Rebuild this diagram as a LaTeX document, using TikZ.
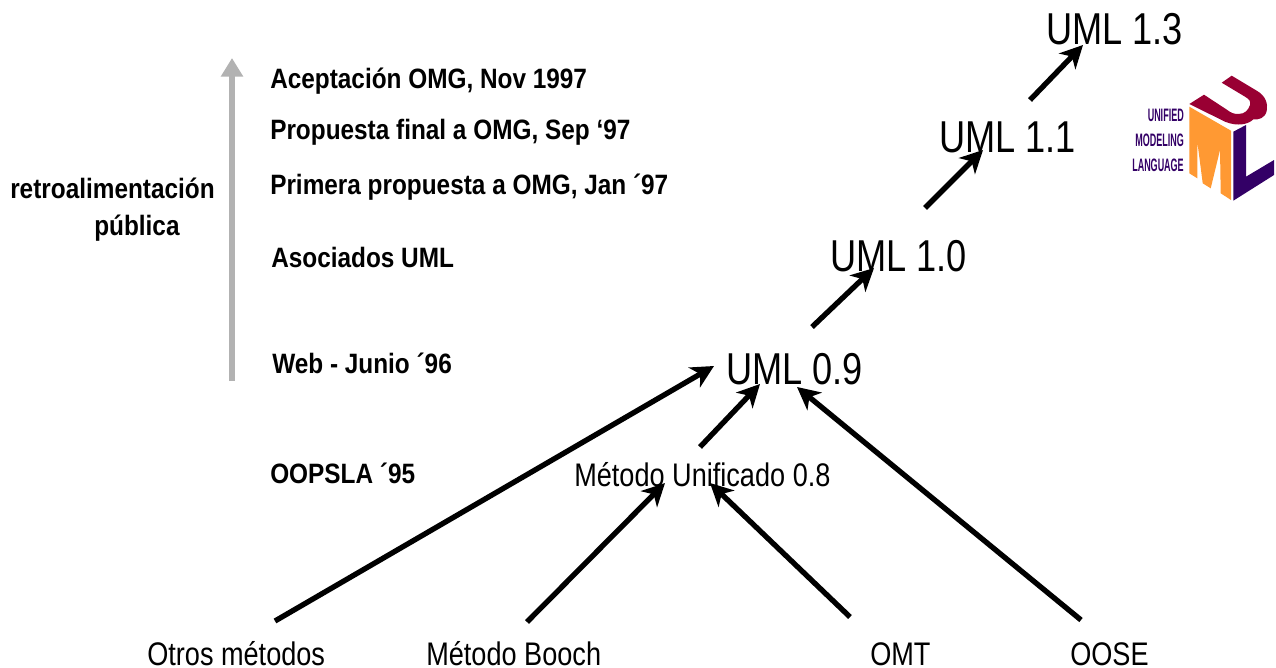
\documentclass[tikz,border=0pt]{standalone}
\usepackage{fontspec}
\setmainfont{Liberation Sans}
\newfontfamily\narrowbig[FakeStretch=0.81]{Liberation Sans}
\newfontfamily\narrowmid[FakeStretch=0.83]{Liberation Sans}
\newfontfamily\narrowbold[FakeStretch=0.87]{Liberation Sans Bold}
\newfontfamily\logofont[FakeStretch=0.5]{Liberation Sans Bold}
\usetikzlibrary{arrows.meta}
\definecolor{umlmaroon}{HTML}{990033}
\definecolor{umlorange}{HTML}{FF9933}
\definecolor{umlpurple}{HTML}{330066}
\tikzset{
  big/.style={inner sep=0pt,anchor=base west,font=\narrowbig\fontsize{33.5}{36}\selectfont},
  mid/.style={inner sep=0pt,anchor=base west,font=\narrowmid\fontsize{24.5}{28}\selectfont},
  boldlab/.style={inner sep=0pt,anchor=base west,font=\narrowbold\fontsize{21}{24}\selectfont},
  logotext/.style={inner sep=0pt,anchor=base east,text=umlpurple,font=\logofont\fontsize{13.5}{15}\selectfont},
  conn/.style={draw=black,line width=4pt,-{Stealth[length=17pt,width=17pt,inset=5pt]}},
  grayarrow/.style={draw=black!30,line width=4.5pt,-{Stealth[length=14pt,width=16pt,inset=0pt]}}
}
\begin{document}
\begin{tikzpicture}[x=0.75pt,y=-0.75pt]
\useasboundingbox (0,0) rectangle (1276,667);
% labels
\node[boldlab] (aceptacion) at (270,89) {Aceptación OMG, Nov 1997};
\node[boldlab] (propuesta) at (270,139) {Propuesta final a OMG, Sep ‘97};
\node[boldlab] (primera) at (270,194) {Primera propuesta a OMG, Jan ´97};
\node[boldlab] (asociados) at (271,267) {Asociados UML};
\node[boldlab] (web) at (272,373) {Web - Junio ´96};
\node[boldlab] (oopsla) at (270,483) {OOPSLA ´95};
\node[boldlab] (retro) at (10,198) {retroalimentación};
\node[boldlab] (publica) at (94,235) {pública};
% versions
\node[big] (uml09) at (726,384) {UML 0.9};
\node[big] (uml10) at (830,271) {UML 1.0};
\node[big] (uml11) at (939,152) {UML 1.1};
\node[big] (uml13) at (1046,45) {UML 1.3};
\node[mid] (metodo) at (574,486) {Método Unificado 0.8};
\node[mid] (otros) at (147,665) {Otros métodos};
\node[mid] (booch) at (426,665) {Método Booch};
\node[mid] (omt) at (870,665) {OMT};
\node[mid] (oose) at (1070,665) {OOSE};
% connectors
\draw[conn] ([shift={(128,-44)}]otros.base west) -- ([shift={(-12,-18)}]uml09.base west);
\draw[conn] ([shift={(126,-39)}]metodo.base west) -- ([shift={(34,0)}]uml09.base west);
\draw[conn] ([shift={(86,-57)}]uml09.base west) -- ([shift={(44,-3)}]uml10.base west);
\draw[conn] ([shift={(95,-63)}]uml10.base west) -- ([shift={(44,-2)}]uml11.base west);
\draw[conn] ([shift={(91,-52)}]uml11.base west) -- ([shift={(37,0)}]uml13.base west);
\draw[conn] ([shift={(101,-43)}]booch.base west) -- ([shift={(91,-3)}]metodo.base west);
\draw[conn] ([shift={(-20,-48)}]omt.base west) -- ([shift={(136,-3)}]metodo.base west);
\draw[conn] ([shift={(11,-45)}]oose.base west) -- ([shift={(71,3)}]uml09.base west);
% feedback arrow
\coordinate (feedbackstart) at (232,381);
\coordinate (feedbackend) at (232,58);
\draw[grayarrow] (feedbackstart) -- (feedbackend);
% logo
\fill[umlorange] (1189.3,106.7) -- (1231,130.7) -- (1231,200) -- (1220.7,193.3) -- (1220,150) -- (1210.7,188.3) -- (1202.7,183.3) -- (1197.3,141.7) -- (1197.3,178.3) -- (1189.3,173.3) -- cycle;
\fill[umlpurple] (1233.3,131.7) -- (1246,125) -- (1246,176.7) -- (1274,160) -- (1274,175) -- (1233.3,200.7) -- cycle;
\fill[umlmaroon] (1189.3,104) -- (1204,94.7) -- (1227.3,110) .. controls (1231,113) and (1234,114) .. (1238.3,114) .. controls (1245,114) and (1248.3,110) .. (1250,105) .. controls (1251,101) and (1249,99) .. (1245,96.7) -- (1221.7,82.7) -- (1231.7,75.7) -- (1256.7,90.7) .. controls (1266,96) and (1268,104) .. (1266.7,111) .. controls (1265,118) and (1259,120) .. (1253.3,119.3) .. controls (1249,124) and (1238,127) .. (1225,121.7) -- cycle;
\node[logotext] (unified) at (1184,121) {UNIFIED};
\node[logotext] (modeling) at (1184,146) {MODELING};
\node[logotext] (language) at (1184,171) {LANGUAGE};
\end{tikzpicture}
\end{document}
